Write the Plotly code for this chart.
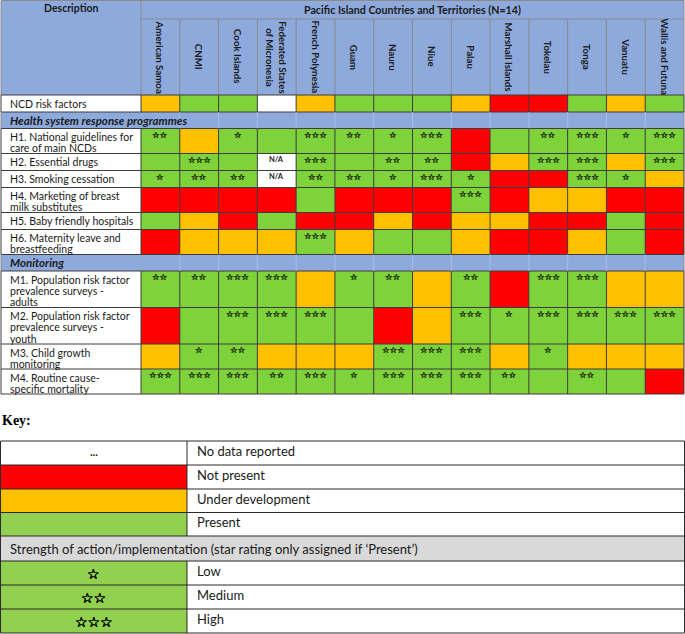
import plotly.graph_objects as go

# ---------------- data ----------------
countries = ["American Samoa", "CNMI", "Cook Islands", "Federated States<br>of Micronesia",
             "French Polynesia", "Guam", "Nauru", "Niue", "Palau", "Marshall Islands",
             "Tokelau", "Tonga", "Vanuatu", "Wallis and Futuna"]

row_labels = [
    "NCD risk factors",
    "Health system response programmes",
    "H1. National guidelines for<br>care of main NCDs",
    "H2. Essential drugs",
    "H3. Smoking cessation",
    "H4. Marketing of breast<br>milk substitutes",
    "H5. Baby friendly hospitals",
    "H6. Maternity leave and<br>breastfeeding",
    "Monitoring",
    "M1. Population risk factor<br>prevalence surveys -<br>adults",
    "M2. Population risk factor<br>prevalence surveys -<br>youth",
    "M3. Child growth<br>monitoring",
    "M4. Routine cause-<br>specific mortality",
]

# status: W = no data reported, R = not present, O = under development, G = present, NA = N/A
status = [
    ["O", "G", "G", "W", "O", "G", "G", "G", "O", "R", "R", "G", "O", "G"],
    None,
    ["G", "O", "G", "G", "G", "G", "G", "G", "R", "G", "G", "G", "G", "G"],
    ["G", "G", "G", "NA", "G", "G", "G", "G", "R", "O", "G", "G", "O", "G"],
    ["G", "G", "G", "NA", "G", "G", "G", "G", "G", "R", "R", "G", "G", "O"],
    ["R", "R", "R", "R", "G", "R", "R", "R", "G", "R", "O", "O", "R", "R"],
    ["G", "O", "R", "G", "R", "R", "O", "R", "O", "O", "R", "R", "G", "R"],
    ["R", "O", "O", "O", "G", "O", "G", "G", "O", "R", "R", "O", "G", "R"],
    None,
    ["G", "G", "G", "G", "O", "G", "G", "O", "G", "R", "G", "G", "O", "O"],
    ["R", "G", "G", "G", "G", "G", "R", "O", "G", "G", "G", "G", "G", "G"],
    ["O", "G", "G", "O", "O", "O", "G", "G", "G", "O", "G", "O", "O", "O"],
    ["G", "G", "G", "G", "G", "G", "G", "G", "G", "G", "G", "G", "G", "R"],
]

# star rating (0 = none)
stars = [
    [0, 0, 0, 0, 0, 0, 0, 0, 0, 0, 0, 0, 0, 0],
    None,
    [2, 0, 1, 0, 3, 2, 1, 3, 0, 0, 2, 3, 1, 3],
    [0, 3, 0, 0, 3, 0, 2, 2, 0, 0, 3, 3, 0, 3],
    [1, 2, 2, 0, 2, 2, 1, 3, 1, 0, 0, 3, 1, 0],
    [0, 0, 0, 0, 0, 0, 0, 0, 3, 0, 0, 0, 0, 0],
    [0, 0, 0, 0, 0, 0, 0, 0, 0, 0, 0, 0, 0, 0],
    [0, 0, 0, 0, 3, 0, 0, 0, 0, 0, 0, 0, 0, 0],
    None,
    [2, 2, 3, 3, 0, 1, 2, 0, 2, 0, 3, 3, 0, 0],
    [0, 0, 3, 3, 3, 0, 0, 0, 3, 1, 3, 3, 3, 3],
    [0, 1, 2, 0, 0, 0, 3, 3, 3, 0, 1, 0, 0, 0],
    [3, 3, 3, 2, 3, 1, 3, 3, 3, 2, 0, 2, 0, 0],
]

key_status_labels = ["No data reported", "Not present", "Under development", "Present"]
key_status_codes = ["W", "R", "O", "G"]
key_strength_title = "Strength of action/implementation (star rating only assigned if \u2018Present\u2019)"
key_star_labels = ["Low", "Medium", "High"]
key_star_counts = [1, 2, 3]

# ---------------- style ----------------
C_RED, C_ORA, C_GRN, C_WHT = "#FF0000", "#FFC000", "#7ED23A", "#FFFFFF"
C_KEYGRN = "#92D050"
C_BLUE = "#8EAADC"
C_GRAY = "#D9D9D9"
code_val = {"W": 0, "NA": 0, "R": 1, "O": 2, "G": 3}
key_fill = {"W": C_WHT, "R": C_RED, "O": C_ORA, "G": C_KEYGRN}
FONT = "Lato, 'Noto Sans', sans-serif"
TXT = "#1a1a1a"
STAR = "\u2606"

def thick(c, d):
    return ", ".join(f"{dx}px {dy}px 0 {c}" for dx, dy in
                     [(d, 0), (-d, 0), (0, d), (0, -d)])

W, H = 685, 634
fig = go.Figure()

# ---------------- geometry ----------------
X0, XD, X1 = 1, 141, 684
ncol = len(countries)
cw = (X1 - XD) / ncol
col_edges = [XD + i * cw for i in range(ncol + 1)]
col_mid = [XD + (i + 0.5) * cw for i in range(ncol)]
Y0, HEAD1, HEAD2 = 0.5, 19, 95
line_h = {1: 17, 2: 25, 3: 36.5}
sec_h = 16.5

row_edges = [HEAD2]
for lab, st in zip(row_labels, status):
    h = sec_h if st is None else line_h[lab.count("<br>") + 1]
    row_edges.append(row_edges[-1] + h)
YB = row_edges[-1]

shapes = []
ann = []

def rect(x0, x1, y0, y1, fill, layer="below", line=None):
    shapes.append(dict(type="rect", xref="x", yref="y", x0=x0, x1=x1, y0=y0, y1=y1,
                       fillcolor=fill, line=dict(width=0) if line is None else line, layer=layer))

def hline(x0, x1, y, color, w=1):
    shapes.append(dict(type="line", xref="x", yref="y", x0=x0, x1=x1, y0=y, y1=y,
                       line=dict(color=color, width=w), layer="above"))

def vline(x, y0, y1, color, w=1):
    shapes.append(dict(type="line", xref="x", yref="y", x0=x, x1=x, y0=y0, y1=y1,
                       line=dict(color=color, width=w), layer="above"))

# header background
rect(X0, X1, Y0, HEAD2, C_BLUE)
# section rows background
for i, st in enumerate(status):
    if st is None:
        rect(X0, X1, row_edges[i], row_edges[i + 1], C_BLUE)

# heatmap of statuses
z = []
for st in status:
    z.append([None] * ncol if st is None else [code_val[s] for s in st])
cs = [[0, C_WHT], [0.1667, C_WHT], [0.1667, C_RED], [0.5, C_RED],
      [0.5, C_ORA], [0.8333, C_ORA], [0.8333, C_GRN], [1, C_GRN]]
fig.add_trace(go.Heatmap(z=z, x=col_edges, y=row_edges, zmin=0, zmax=3, colorscale=cs,
                         showscale=False, hoverinfo="skip", zsmooth=False))

# header lines
HL = "#8a8a8a"
hline(X0, X1, Y0, HL)
hline(XD, X1, HEAD1, HL)
vline(X0, Y0, HEAD2, HL)
vline(X1, Y0, HEAD2, HL)
vline(XD, Y0, HEAD2, HL)
for x in col_edges[1:-1]:
    vline(x, HEAD1, HEAD2, HL)

# body lines
BL = "#3d3d3d"
for y in row_edges:
    hline(X0, X1, y, BL)
for i, st in enumerate(status):
    y0, y1 = row_edges[i], row_edges[i + 1]
    if st is None:
        for x in col_edges[1:-1]:
            vline(x, y0, y1, "#a9bde6")
        vline(X0, y0, y1, HL)
        vline(X1, y0, y1, HL)
    else:
        for x in [X0] + col_edges:
            vline(x, y0, y1, BL)

# header text
ann.append(dict(x=(X0 + XD) / 2, y=(Y0 + HEAD1) / 2 - 1.5, text="<b>Description</b>",
                font=dict(size=10.5, color=TXT, family=FONT)))
ann.append(dict(x=(XD + X1) / 2, y=(Y0 + HEAD1) / 2, text="<b>Pacific Island Countries and Territories (N=14)</b>",
                font=dict(size=10.7, color=TXT, family=FONT)))
for i, c in enumerate(countries):
    ann.append(dict(x=col_mid[i], y=(HEAD1 + HEAD2) / 2, text="<b>" + c + "</b>",
                    textangle=90, font=dict(size=9.7, color=TXT, family=FONT)))

# row labels
for i, (lab, st) in enumerate(zip(row_labels, status)):
    y0 = row_edges[i]
    if st is None:
        ann.append(dict(x=X0 + 7, y=(y0 + row_edges[i + 1]) / 2, xanchor="left",
                        text="<b><i>" + lab + "</i></b>", font=dict(size=11.5, color=TXT, family=FONT)))
    else:
        for k, ln in enumerate(lab.split("<br>")):
            ann.append(dict(x=X0 + 7, y=y0 + 8.5 + k * 11.3, xanchor="left", text=ln,
                            font=dict(size=10.5, color=TXT, family=FONT)))
        for j in range(ncol):
            if stars[i][j] > 0:
                ann.append(dict(x=col_mid[j], y=y0 + 6, text=STAR * stars[i][j],
                                font=dict(size=8.5, color="#1c2410", family="DejaVu Sans",
                                          shadow=thick("#1c2410", 0.4))))
            if st[j] == "NA":
                ann.append(dict(x=col_mid[j], y=y0 + 6, text="<b>N/A</b>",
                                font=dict(size=7.5, color=TXT, family=FONT)))

# ---------------- key ----------------
ann.append(dict(x=X0 - 1, y=420, xanchor="left", text="<b>Key:</b>",
                font=dict(size=14, color="#000", family="Liberation Serif, serif")))
KX0, KXM, KX1 = 0.5, 187, 684.5
k_edges = [441, 465, 489, 512.5, 536, 561, 585, 609, 633]
KL = "#2a2a2a"
for r, (lab, code) in enumerate(zip(key_status_labels, key_status_codes)):
    y0, y1 = k_edges[r], k_edges[r + 1]
    rect(KX0, KXM, y0, y1, key_fill[code])
    if code == "W":
        ann.append(dict(x=(KX0 + KXM) / 2, y=(y0 + y1) / 2 - 2, text="<b>...</b>",
                        font=dict(size=11, color=TXT, family=FONT)))
    ann.append(dict(x=KXM + 8, y=(y0 + y1) / 2 - 2, xanchor="left", text=lab,
                    font=dict(size=13, color=TXT, family=FONT)))
# strength title row
ys0, ys1 = k_edges[4], k_edges[5]
rect(KX0, KX1, ys0, ys1, C_GRAY)
ann.append(dict(x=KX0 + 7, y=(ys0 + ys1) / 2, xanchor="left", text=key_strength_title,
                font=dict(size=13, color=TXT, family=FONT)))
for r, (lab, n) in enumerate(zip(key_star_labels, key_star_counts)):
    y0, y1 = k_edges[5 + r], k_edges[6 + r]
    rect(KX0, KXM, y0, y1, C_KEYGRN)
    ann.append(dict(x=(KX0 + KXM) / 2, y=(y0 + y1) / 2 + 1, text=STAR * n,
                    font=dict(size=14, color="#000", family="DejaVu Sans",
                              shadow=thick("#000", 0.3))))
    ann.append(dict(x=KXM + 8, y=(y0 + y1) / 2 - 2, xanchor="left", text=lab,
                    font=dict(size=13, color=TXT, family=FONT)))
# key lines
for y in k_edges:
    hline(KX0, KX1, y, KL)
vline(KX0, k_edges[0], k_edges[-1], KL)
vline(KX1, k_edges[0], k_edges[-1], KL)
vline(KXM, k_edges[0], k_edges[4], KL)
vline(KXM, k_edges[5], k_edges[-1], KL)

for a in ann:
    a.setdefault("showarrow", False)
    a.setdefault("xref", "x")
    a.setdefault("yref", "y")
    a.setdefault("yanchor", "middle")

fig.update_layout(
    width=W, height=H, margin=dict(l=0, r=0, t=0, b=0),
    paper_bgcolor="white", plot_bgcolor="white",
    xaxis=dict(range=[0, W], visible=False, fixedrange=True),
    yaxis=dict(range=[H, 0], visible=False, fixedrange=True),
    shapes=shapes, annotations=ann, showlegend=False,
)
fig.write_html("out.html", config={"displayModeBar": False},
               post_script="document.body.style.margin='0px';document.body.style.overflow='hidden';")
